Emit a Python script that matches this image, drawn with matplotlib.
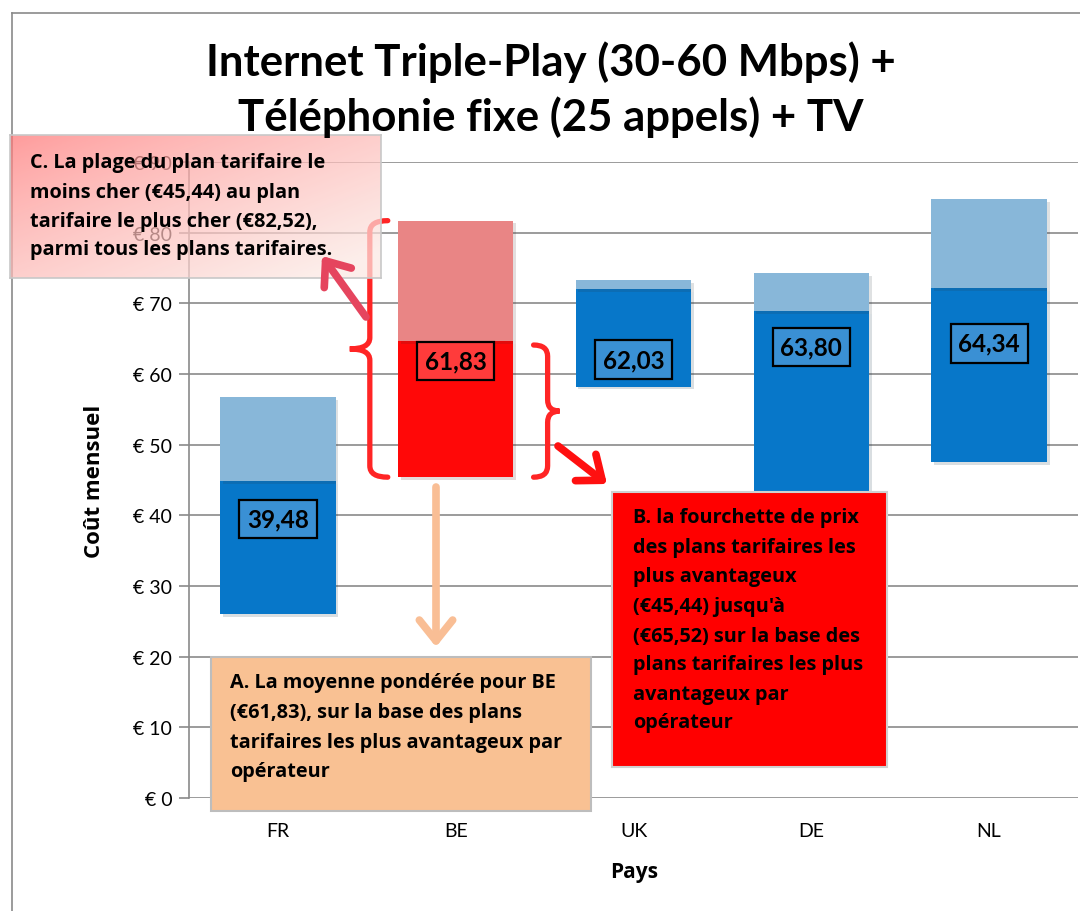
import matplotlib
matplotlib.use('Agg')
import matplotlib.pyplot as plt
import numpy as np
from matplotlib.patches import Rectangle, FancyArrowPatch, PathPatch
from matplotlib.path import Path
from matplotlib.lines import Line2D
import matplotlib.patheffects as pe

plt.rcParams['font.family'] = ['Lato', 'DejaVu Sans']
BOLD_FONT = ['Open Sans', 'DejaVu Sans']

# Data
pays = ['FR', 'BE', 'UK', 'DE', 'NL']
plan_min = [26.0, 45.4, 58.2, 43.0, 47.5]          # bottom of the dark bar
plan_avantageux = [44.8, 64.7, 72.0, 68.9, 72.1]   # top of the dark bar
plan_max = [56.7, 81.7, 73.3, 74.3, 84.7]          # top of the light bar
moyenne = [39.48, 61.83, 62.03, 63.80, 64.34]
labels_moyenne = ['39,48', '61,83', '62,03', '63,80', '64,34']
yticks = [0, 10, 20, 30, 40, 50, 60, 70, 80, 90]

titre = ['Internet Triple-Play (30-60 Mbps) +', 'Téléphonie fixe (25 appels) + TV']
texte_a = ['A. La moyenne pondérée pour BE', '(€61,83), sur la base des plans',
           'tarifaires les plus avantageux par', 'opérateur']
texte_b = ['B. la fourchette de prix', 'des plans tarifaires les', 'plus avantageux',
           "(€45,44) jusqu'à", '(€65,52) sur la base des', 'plans tarifaires les plus',
           'avantageux par', 'opérateur']
texte_c = ['C. La plage du plan tarifaire le', 'moins cher (€45,44) au plan',
           'tarifaire le plus cher (€82,52),', 'parmi tous les plans tarifaires.']

W, H = 1080, 912
fig = plt.figure(figsize=(W / 100, H / 100), dpi=100)


def fp(x, y):
    # pixel position (top-left origin) -> figure fraction
    return x / W, 1 - y / H


ax = fig.add_axes([189 / W, 1 - 799 / H, (1078 - 189) / W, (799 - 163) / H], zorder=1)

x = np.arange(len(pays))
lo = np.array(plan_min)
mid = np.array(plan_avantageux)
hi = np.array(plan_max)
dark = ['#0777C9' if p != 'BE' else '#FF0808' for p in pays]
light = ['#88B7D9' if p != 'BE' else '#E98585' for p in pays]
box_fc = ['#3A90D4' if p != 'BE' else '#FF3B3B' for p in pays]

shadow = [pe.SimplePatchShadow(offset=(2, -2), alpha=0.15), pe.Normal()]
b1 = ax.bar(x, mid - lo, bottom=lo, width=0.65, color=dark, zorder=3)
b2 = ax.bar(x, hi - mid, bottom=mid, width=0.65, color=light, zorder=3)
for r in list(b1) + list(b2):
    r.set_path_effects(shadow)

for i in x:
    ax.text(i, moyenne[i], labels_moyenne[i], ha='center', va='center', fontsize=17.5,
            fontweight='bold', zorder=5,
            bbox=dict(boxstyle='square,pad=0.32', fc=box_fc[i], ec='black', lw=1.6))

ax.set_xlim(-0.5, len(pays) - 0.5)
ax.set_ylim(0, 90)
ax.set_yticks(yticks)
ax.set_yticklabels([f'€ {v}' for v in yticks])
ax.set_xticks(x)
ax.set_xticklabels(pays)
ax.yaxis.grid(True, color='#8A8A8A', lw=1.2)
ax.set_axisbelow(True)
for s in ['top', 'right', 'bottom']:
    ax.spines[s].set_visible(False)
ax.spines['left'].set_color('#8A8A8A')
ax.spines['left'].set_linewidth(1.2)
ax.tick_params(axis='y', length=7, color='#8A8A8A', width=1.2, labelsize=14, pad=5)
ax.tick_params(axis='x', length=0, labelsize=14, pad=17)
ax.patch.set_alpha(0)


# brackets around BE (data coords)
def bracket(xv, top, bot, xh, xm, c=1.6):
    m = (top + bot) / 2
    verts = [(xh, top), (xv, top), (xv, top - c), (xv, m + c), (xv, m), (xm, m),
             (xv, m), (xv, m - c), (xv, bot + c), (xv, bot), (xh, bot)]
    codes = [Path.MOVETO, Path.CURVE3, Path.CURVE3, Path.LINETO, Path.CURVE3, Path.CURVE3,
             Path.CURVE3, Path.CURVE3, Path.LINETO, Path.CURVE3, Path.CURVE3]
    ax.add_patch(PathPatch(Path(verts, codes), fc='none', ec='#FF2525', lw=3.8,
                           capstyle='round', zorder=4, clip_on=False))


bracket(0.517, hi[1], lo[1], 0.618, 0.404)
bracket(1.517, mid[1] - 0.6, lo[1], 1.438, 1.584)

# callout boxes
fig.add_artist(Rectangle(fp(211, 812), (591 - 211) / W, (812 - 658) / H, transform=fig.transFigure,
                         fc='#F9C193', ec='#BDBDBD', lw=1.5, zorder=3))
fig.add_artist(Rectangle(fp(612, 768), (887 - 612) / W, (768 - 493) / H, transform=fig.transFigure,
                         fc='#FF0000', ec='#D0D0D0', lw=1.5, zorder=3))

axc = fig.add_axes([10 / W, 1 - 279 / H, (381 - 10) / W, (279 - 136) / H], zorder=2)
u, v = np.meshgrid(np.linspace(0, 1, 200), np.linspace(0, 1, 80))
t = np.clip(0.55 * u + 0.55 * v, 0, 1)[..., None] ** 0.8
c0 = np.array([1.0, 0.45, 0.45])
c1 = np.array([0.99, 0.91, 0.89])
axc.imshow(c0 + (c1 - c0) * t, extent=[0, 1, 0, 1], aspect='auto', alpha=0.72, origin='upper')
axc.set_xticks([])
axc.set_yticks([])
axc.patch.set_alpha(0)
for s in axc.spines.values():
    s.set_color('#C8C8C8')
    s.set_linewidth(1.2)

for lines, x0, ys in [(texte_a, 230, [683, 713, 743, 772]),
                      (texte_b, 633, [518, 548, 577, 607, 637, 665, 695, 723]),
                      (texte_c, 30, [163, 193, 222, 250])]:
    for s, yy in zip(lines, ys):
        fig.text(*fp(x0, yy), s, ha='left', va='center', fontsize=14.3, fontweight='bold',
                 family=BOLD_FONT, zorder=4)

# arrows
for p0, p1, col in [((366, 318), (322, 257), '#E5455E'),
                    ((558, 447), (607, 485), '#FF1010'),
                    ((436, 488), (436, 648), '#F9BE95')]:
    fig.add_artist(FancyArrowPatch(fp(*p0), fp(*p1), transform=fig.transFigure,
                                   arrowstyle='->,head_length=0.75,head_width=0.6', mutation_scale=20,
                                   color=col, lw=5.5, capstyle='round', joinstyle='round',
                                   shrinkA=0, shrinkB=0, zorder=5))

# titles and axis labels
fig.text(*fp(551, 62), titre[0], ha='center', va='center', fontsize=31.5, fontweight='bold')
fig.text(*fp(551, 117), titre[1], ha='center', va='center', fontsize=31.5, fontweight='bold')
fig.text(*fp(95, 481), 'Coût mensuel', rotation=90, ha='center', va='center', fontsize=16,
         fontweight='bold', family=BOLD_FONT)
fig.text(*fp(634, 873), 'Pays', ha='center', va='center', fontsize=15, fontweight='bold',
         family=BOLD_FONT)

# outer frame of the chart area
fig.add_artist(Line2D([12 / W, 12 / W], [0, 1 - 14 / H], color='#8A8A8A', lw=1.2))
fig.add_artist(Line2D([12 / W, 1], [1 - 14 / H, 1 - 14 / H], color='#8A8A8A', lw=1.2))

fig.savefig('out.png', dpi=100)
